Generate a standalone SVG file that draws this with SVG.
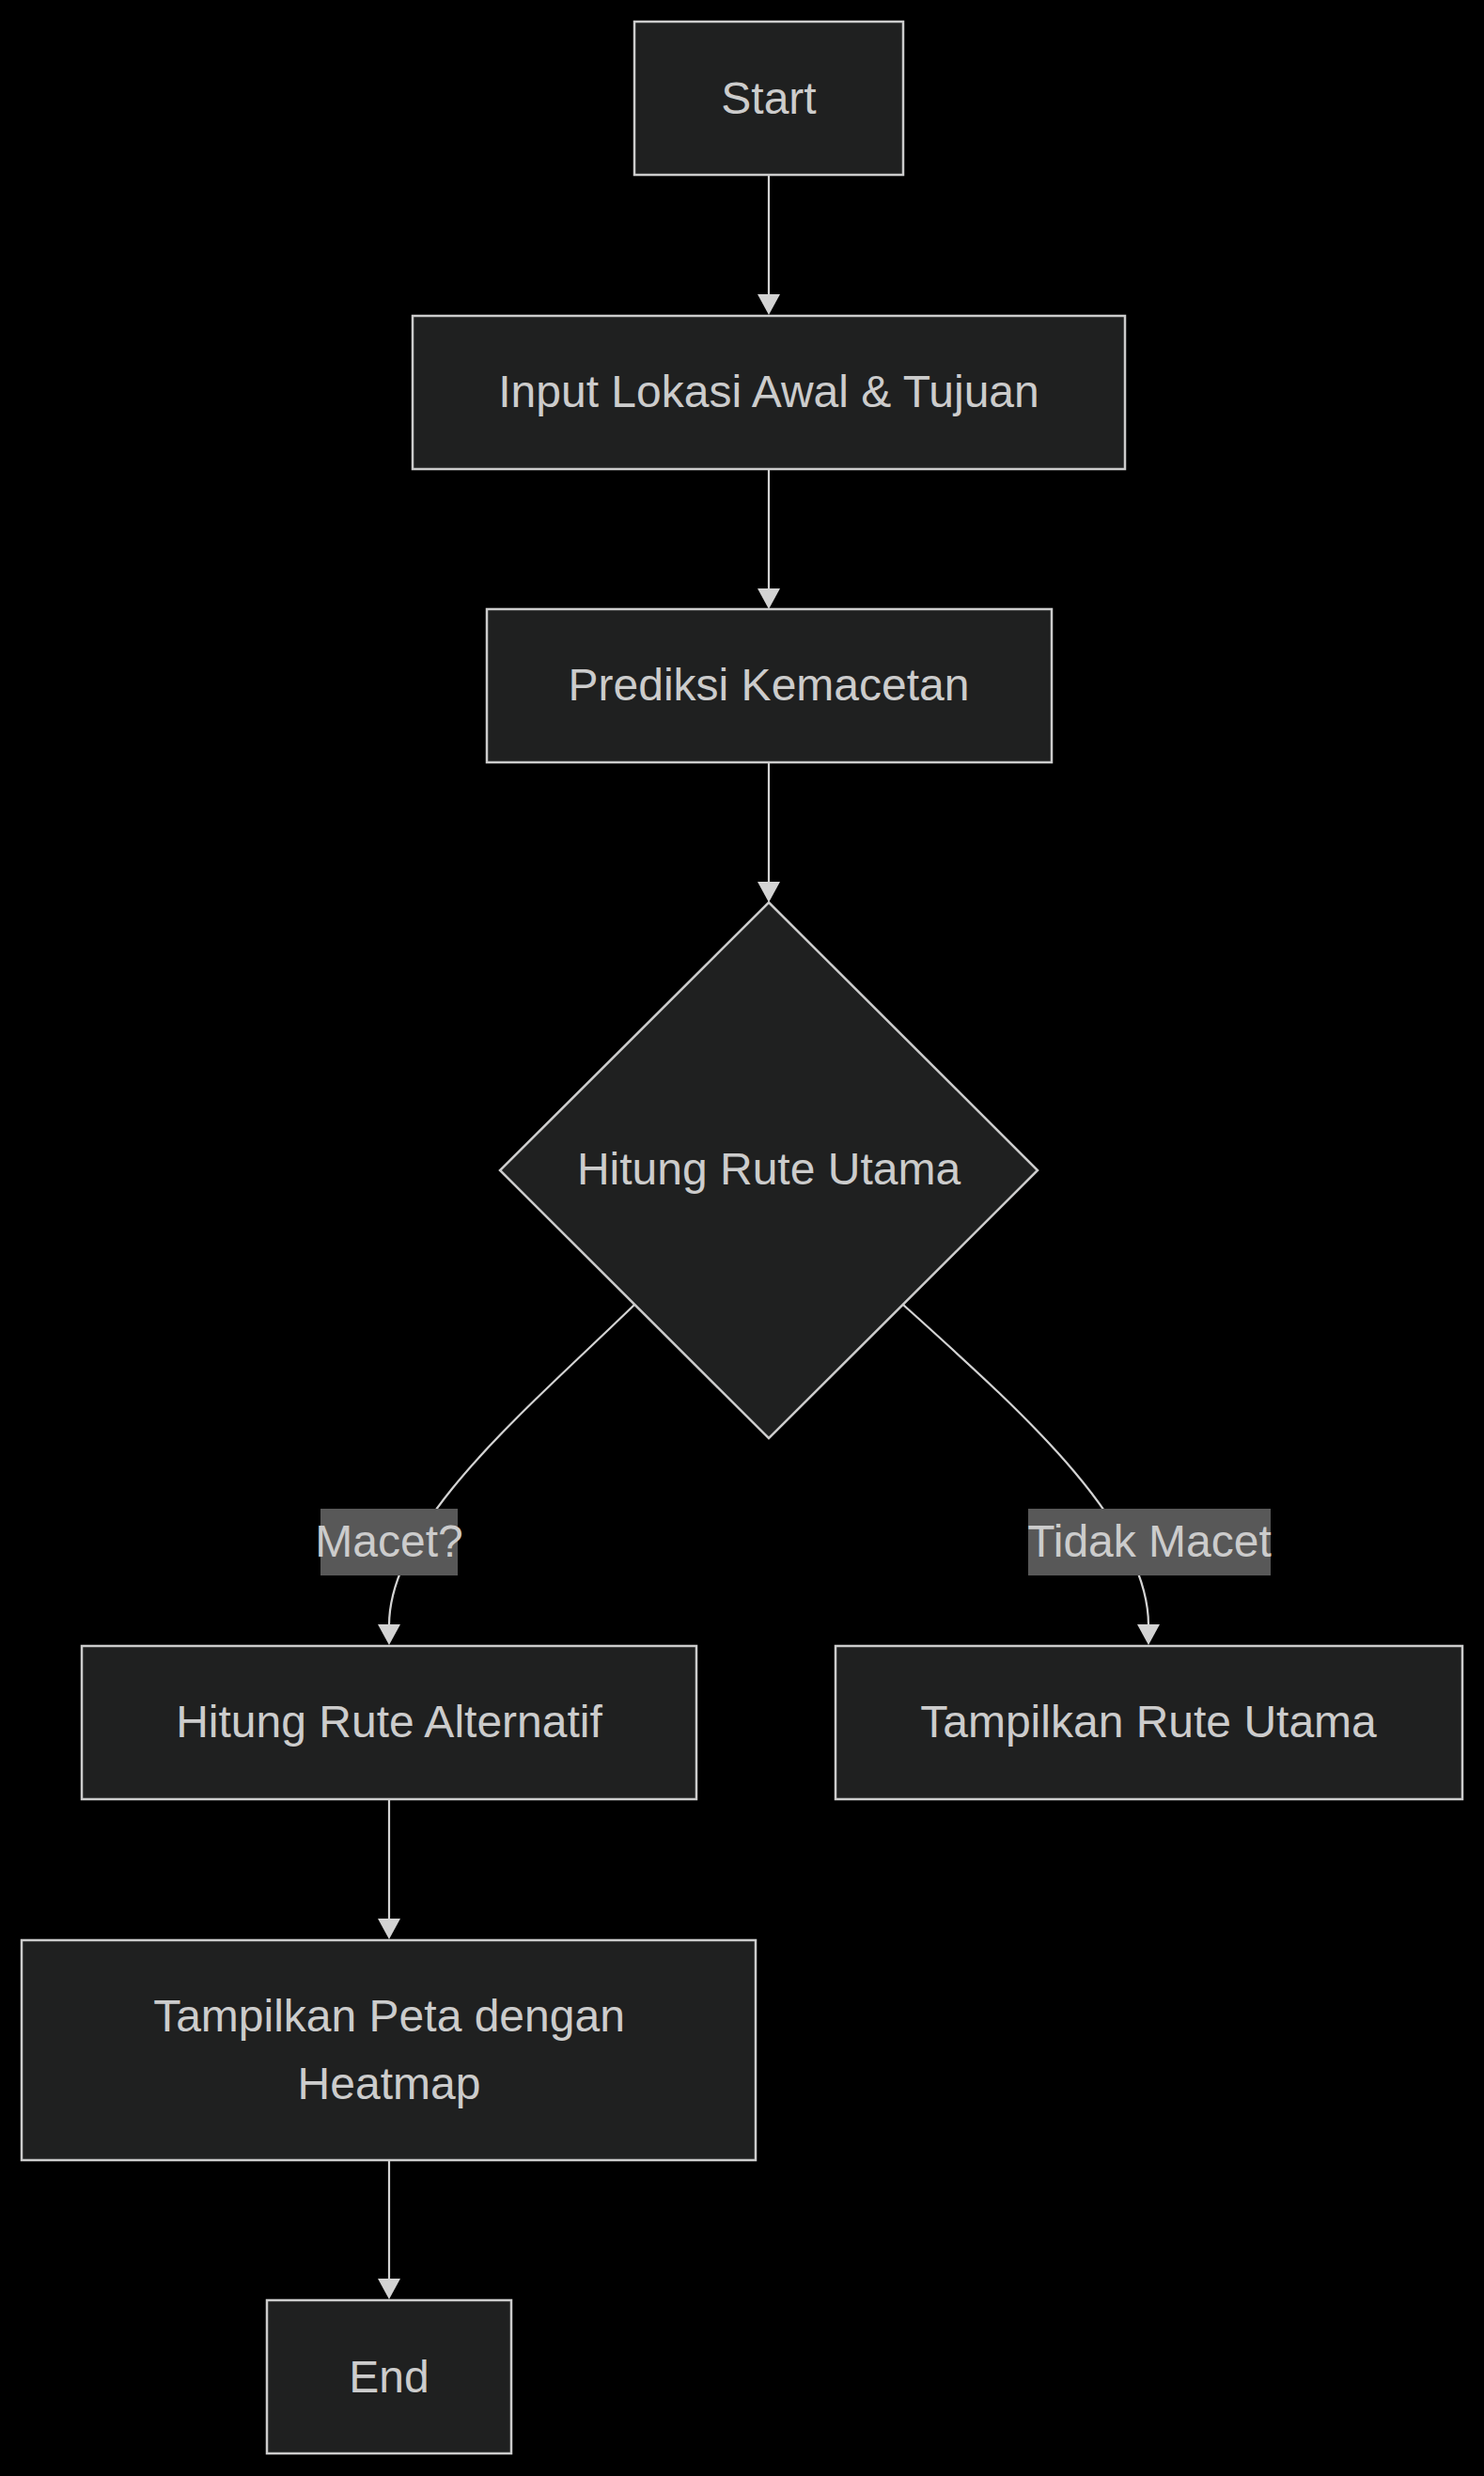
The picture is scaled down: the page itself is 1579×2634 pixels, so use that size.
<svg xmlns="http://www.w3.org/2000/svg" width="1579" height="2634" viewBox="0 0 1579 2634">
<style>
.node rect,.node polygon{fill:#1f2020;stroke:#cccccc;stroke-width:2.5}
.lbl{font-family:"Liberation Sans",Arial,sans-serif;font-size:48px;fill:#cccccc;text-anchor:middle}
.edge{fill:none;stroke:#d3d3d3;stroke-width:2.2}
.elbg{fill:#585858}
</style>
<defs>
<marker id="arrow" viewBox="0 0 22 24" markerWidth="22" markerHeight="24" refX="1" refY="12" orient="auto" markerUnits="userSpaceOnUse">
<path d="M0,0 L22,12 L0,24 Z" fill="#d3d3d3"/>
</marker>
</defs>
<rect x="0" y="0" width="1579" height="2634" fill="#000000"/>
<g id="connectors">
<path class="edge" d="M818,187 L818,314" marker-end="url(#arrow)"/>
<path class="edge" d="M818,499 L818,627" marker-end="url(#arrow)"/>
<path class="edge" d="M818,811 L818,939" marker-end="url(#arrow)"/>
<path class="edge" d="M675,1388 C560,1500 414,1620 414,1729" marker-end="url(#arrow)"/>
<path class="edge" d="M961,1388 C1085,1500 1222,1620 1222,1729" marker-end="url(#arrow)"/>
<path class="edge" d="M414,1915 L414,2042" marker-end="url(#arrow)"/>
<path class="edge" d="M414,2298 L414,2425" marker-end="url(#arrow)"/>
<g id="label-macet">
<rect class="elbg" x="341" y="1605" width="146" height="71"/>
<text class="lbl" x="414" y="1656">Macet?</text>
</g>
<g id="label-tidak-macet">
<rect class="elbg" x="1094" y="1605" width="258" height="71"/>
<text class="lbl" x="1223" y="1656">Tidak Macet</text>
</g>
</g>
<g id="start" class="node">
<rect x="675" y="23" width="286" height="163"/>
<text class="lbl" x="818" y="121">Start</text>
</g>
<g id="input" class="node">
<rect x="439" y="336" width="758" height="163"/>
<text class="lbl" x="818" y="433">Input Lokasi Awal &amp; Tujuan</text>
</g>
<g id="prediksi" class="node">
<rect x="518" y="648" width="601" height="163"/>
<text class="lbl" x="818" y="745">Prediksi Kemacetan</text>
</g>
<g id="hitung-utama" class="node">
<polygon points="818,960 1104,1245 818,1530 532,1245"/>
<text class="lbl" x="818" y="1260">Hitung Rute Utama</text>
</g>
<g id="hitung-alternatif" class="node">
<rect x="87" y="1751" width="654" height="163"/>
<text class="lbl" x="414" y="1848">Hitung Rute Alternatif</text>
</g>
<g id="tampilkan-utama" class="node">
<rect x="889" y="1751" width="667" height="163"/>
<text class="lbl" x="1222" y="1848">Tampilkan Rute Utama</text>
</g>
<g id="tampilkan-peta" class="node">
<rect x="23" y="2064" width="781" height="234"/>
<text class="lbl" x="414" y="2161">Tampilkan Peta dengan</text>
<text class="lbl" x="414" y="2233">Heatmap</text>
</g>
<g id="end" class="node">
<rect x="284" y="2447" width="260" height="163"/>
<text class="lbl" x="414" y="2545">End</text>
</g>
</svg>
